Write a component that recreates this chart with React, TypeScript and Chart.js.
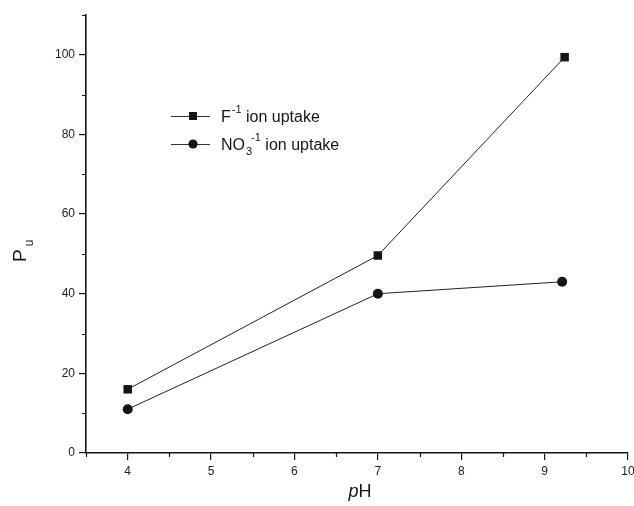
import React, { useEffect, useRef } from "react";
import { Chart, registerables } from "chart.js";

Chart.register(...registerables);

const fX = [4, 7, 9.24];
const fValues = [16, 49.6, 99.4];
const no3X = [4, 7, 9.21];
const no3Values = [11, 40, 43];
const xTickLabels = [4, 5, 6, 7, 8, 9, 10];
const yTickLabels = [0, 20, 40, 60, 80, 100];
const xMinorTicks = [3.5, 4.5, 5.5, 6.5, 7.5, 8.5, 9.5];
const yMinorTicks = [10, 30, 50, 70, 90, 110];

const FONT = "'Liberation Sans', Arial, sans-serif";
const INK = "#151515";

const decorPlugin = {
  id: "decor",
  afterDraw(chart: any) {
    const ctx = chart.ctx as CanvasRenderingContext2D;
    const xs = chart.scales.x;
    const ys = chart.scales.y;
    const area = chart.chartArea;
    ctx.save();
    ctx.strokeStyle = INK;
    ctx.lineWidth = 1.2;
    // minor ticks
    ctx.beginPath();
    xMinorTicks.forEach((v) => {
      const px = Math.round(xs.getPixelForValue(v)) + 0.5;
      ctx.moveTo(px, area.bottom);
      ctx.lineTo(px, area.bottom + 4);
    });
    yMinorTicks.forEach((v) => {
      const py = Math.round(ys.getPixelForValue(v)) + 0.5;
      ctx.moveTo(area.left, py);
      ctx.lineTo(area.left - 4, py);
    });
    ctx.stroke();

    ctx.fillStyle = INK;
    ctx.textBaseline = "alphabetic";
    // x title: italic p + H
    ctx.font = `italic 18px ${FONT}`;
    const pW = ctx.measureText("p").width;
    ctx.font = `18px ${FONT}`;
    const hW = ctx.measureText("H").width;
    const cx = (area.left + area.right) / 2 + 3;
    const startX = cx - (pW + hW) / 2;
    ctx.font = `italic 18px ${FONT}`;
    ctx.textAlign = "left";
    ctx.fillText("p", startX, 497);
    ctx.font = `18px ${FONT}`;
    ctx.fillText("H", startX + pW, 497);

    // y title: P with subscript u, rotated
    ctx.save();
    ctx.translate(26, 262);
    ctx.rotate(-Math.PI / 2);
    ctx.font = `19px ${FONT}`;
    ctx.textAlign = "left";
    ctx.fillText("P", 0, 0);
    const PW = ctx.measureText("P").width;
    ctx.font = `12px ${FONT}`;
    ctx.fillText("u", PW + 3, 7);
    ctx.restore();

    // legend
    const rows = [
      { y: 116, style: "rect", base: "F", sub: "", sup: "-1", rest: " ion uptake" },
      { y: 144, style: "circle", base: "NO", sub: "3", sup: "-1", rest: " ion uptake" },
    ];
    rows.forEach((r) => {
      ctx.strokeStyle = "#333";
      ctx.lineWidth = 1;
      ctx.beginPath();
      ctx.moveTo(171, r.y + 0.5);
      ctx.lineTo(210, r.y + 0.5);
      ctx.stroke();
      ctx.fillStyle = INK;
      if (r.style === "rect") {
        ctx.fillRect(189, r.y - 4, 8, 8);
      } else {
        ctx.beginPath();
        ctx.arc(193, r.y, 4.6, 0, Math.PI * 2);
        ctx.fill();
      }
      let tx = 221;
      const base = r.y + 6;
      ctx.font = `16px ${FONT}`;
      ctx.textAlign = "left";
      ctx.fillText(r.base, tx, base);
      tx += ctx.measureText(r.base).width + 1;
      let supX = tx;
      if (r.sub) {
        ctx.font = `11px ${FONT}`;
        ctx.fillText(r.sub, tx, base + 5);
        supX = tx + ctx.measureText(r.sub).width - 1;
      }
      ctx.font = `11px ${FONT}`;
      ctx.fillText(r.sup, supX, base - 9);
      tx = supX + ctx.measureText(r.sup).width;
      ctx.font = `16px ${FONT}`;
      ctx.fillText(r.rest, tx, base);
    });
    ctx.restore();
  },
};

export default function App() {
  const canvasRef = useRef<HTMLCanvasElement | null>(null);

  useEffect(() => {
    document.body.style.margin = "0";
    const canvas = canvasRef.current;
    if (!canvas) return;
    const chart = new Chart(canvas, {
      type: "scatter",
      data: {
        datasets: [
          {
            label: "F-1 ion uptake",
            data: fX.map((x, i) => ({ x, y: fValues[i] })),
            showLine: true,
            borderColor: "#222",
            borderWidth: 1,
            backgroundColor: INK,
            pointStyle: "rect",
            pointRadius: 6,
            pointBorderWidth: 0,
          },
          {
            label: "NO3-1 ion uptake",
            data: no3X.map((x, i) => ({ x, y: no3Values[i] })),
            showLine: true,
            borderColor: "#222",
            borderWidth: 1,
            backgroundColor: INK,
            pointStyle: "circle",
            pointRadius: 5,
            pointBorderWidth: 0,
          },
        ],
      },
      options: {
        animation: false,
        responsive: false,
        layout: { padding: { top: 15, right: 6, left: 0, bottom: 0 } },
        plugins: {
          legend: { display: false },
          tooltip: { enabled: false },
          title: { display: false },
        },
        scales: {
          x: {
            type: "linear",
            min: 3.5,
            max: 10,
            afterBuildTicks: (scale: any) => {
              scale.ticks = xTickLabels.map((v) => ({ value: v }));
            },
            afterFit: (scale: any) => {
              scale.height = 53;
              scale.paddingLeft = 0;
              scale.paddingRight = 0;
            },
            grid: {
              display: true,
              drawOnChartArea: false,
              drawTicks: true,
              tickLength: 7,
              color: INK,
              lineWidth: 1.2,
            },
            border: { display: true, color: INK, width: 1.6 },
            ticks: {
              color: "#222",
              font: { family: FONT, size: 12 },
              padding: 4,
              maxRotation: 0,
              autoSkip: false,
            },
            title: { display: false },
          },
          y: {
            type: "linear",
            min: 0,
            max: 110,
            afterBuildTicks: (scale: any) => {
              scale.ticks = yTickLabels.map((v) => ({ value: v }));
            },
            afterFit: (scale: any) => {
              scale.width = 86;
            },
            grid: {
              display: true,
              drawOnChartArea: false,
              drawTicks: true,
              tickLength: 7,
              color: INK,
              lineWidth: 1.2,
            },
            border: { display: true, color: INK, width: 1.6 },
            ticks: {
              color: "#222",
              font: { family: FONT, size: 12 },
              padding: 4,
              autoSkip: false,
            },
            title: { display: false },
          },
        },
      },
      plugins: [decorPlugin],
    });
    return () => chart.destroy();
  }, []);

  return (
    <div style={{ width: 634, height: 506, background: "#fff" }}>
      <canvas ref={canvasRef} width={634} height={506} />
    </div>
  );
}
